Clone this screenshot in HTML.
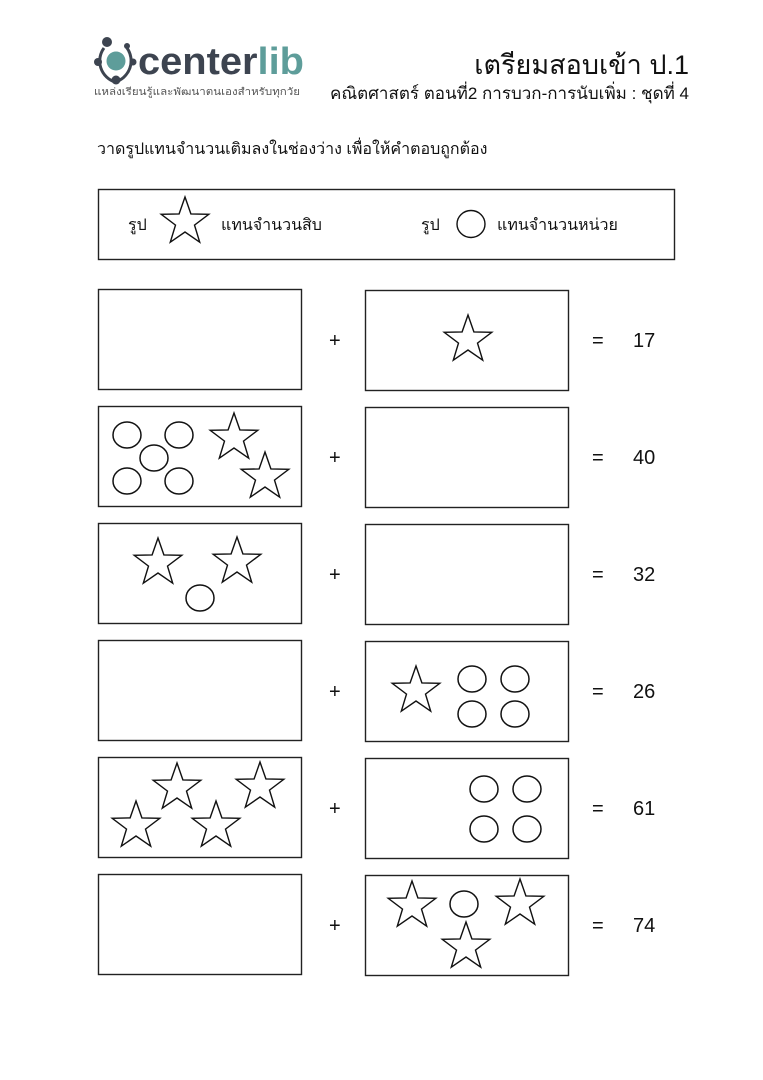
<!DOCTYPE html>
<html><head><meta charset="utf-8">
<style>
html,body{margin:0;padding:0;background:#fff;}
svg{display:block;}
text{font-family:"Liberation Sans","DejaVu Sans",sans-serif;fill:#111;}
</style></head>
<body>
<svg width="763" height="1080" viewBox="0 0 763 1080" xmlns="http://www.w3.org/2000/svg">
<defs>
<polygon id="s" points="0,-25 5.9,-8.1 23.8,-7.7 9.5,3.1 14.7,20.2 0,10 -14.7,20.2 -9.5,3.1 -23.8,-7.7 -5.9,-8.1" fill="#fff" stroke="#111" stroke-width="1.4"/>
<ellipse id="c" rx="14" ry="13" fill="#fff" stroke="#111" stroke-width="1.5"/>
</defs>
<!-- logo -->
<g fill="none" stroke="#3d4450" stroke-width="3">
<path d="M104,48 A22,22 0 0,0 115,82"/>
<path d="M127,48 A22,22 0 0,1 115,82"/>
</g>
<circle cx="116" cy="61" r="9.5" fill="#5e9d9a"/>
<circle cx="107" cy="42" r="5" fill="#3d4450"/>
<circle cx="127" cy="46" r="3" fill="#3d4450"/>
<circle cx="98" cy="62" r="4" fill="#3d4450"/>
<circle cx="133" cy="62" r="3.5" fill="#3d4450"/>
<circle cx="116" cy="80" r="4.5" fill="#3d4450"/>
<text x="138" y="74" font-size="38" font-weight="bold" textLength="166" lengthAdjust="spacingAndGlyphs" style="fill:#3d4450">center<tspan style="fill:#5e9d9a">lib</tspan></text>
<text x="94" y="95" font-size="10" textLength="206" lengthAdjust="spacingAndGlyphs" style="fill:#555">แหล่งเรียนรู้และพัฒนาตนเองสำหรับทุกวัย</text>
<text x="689" y="74" font-size="27" text-anchor="end">เตรียมสอบเข้า ป.1</text>
<text x="689" y="99" font-size="17" text-anchor="end">คณิตศาสตร์ ตอนที่2 การบวก-การนับเพิ่ม : ชุดที่ 4</text>
<text x="97" y="154" font-size="16">วาดรูปแทนจำนวนเติมลงในช่องว่าง เพื่อให้คำตอบถูกต้อง</text>
<!-- legend -->
<rect x="98.5" y="189.5" width="576" height="70" fill="none" stroke="#222" stroke-width="1.4"/>
<text x="128" y="230" font-size="16">รูป</text>
<use href="#s" x="185" y="222"/>
<text x="221" y="230" font-size="16">แทนจำนวนสิบ</text>
<text x="421" y="230" font-size="16">รูป</text>
<ellipse cx="471" cy="224" rx="14" ry="13.5" fill="none" stroke="#111" stroke-width="1.4"/>
<text x="497" y="230" font-size="16">แทนจำนวนหน่วย</text>
<!-- rows -->
<g fill="none" stroke="#222" stroke-width="1.4">
<rect x="98.5" y="289.5" width="203" height="100"/><rect x="365.5" y="290.5" width="203" height="100"/>
<rect x="98.5" y="406.5" width="203" height="100"/><rect x="365.5" y="407.5" width="203" height="100"/>
<rect x="98.5" y="523.5" width="203" height="100"/><rect x="365.5" y="524.5" width="203" height="100"/>
<rect x="98.5" y="640.5" width="203" height="100"/><rect x="365.5" y="641.5" width="203" height="100"/>
<rect x="98.5" y="757.5" width="203" height="100"/><rect x="365.5" y="758.5" width="203" height="100"/>
<rect x="98.5" y="874.5" width="203" height="100"/><rect x="365.5" y="875.5" width="203" height="100"/>
</g>
<g font-size="20">
<text x="329" y="347">+</text><text x="592" y="347">=</text><text x="633" y="347">17</text>
<text x="329" y="464">+</text><text x="592" y="464">=</text><text x="633" y="464">40</text>
<text x="329" y="581">+</text><text x="592" y="581">=</text><text x="633" y="581">32</text>
<text x="329" y="698">+</text><text x="592" y="698">=</text><text x="633" y="698">26</text>
<text x="329" y="815">+</text><text x="592" y="815">=</text><text x="633" y="815">61</text>
<text x="329" y="932">+</text><text x="592" y="932">=</text><text x="633" y="932">74</text>
</g>
<use href="#s" x="468" y="340"/>
<use href="#c" x="127" y="435"/><use href="#c" x="179" y="435"/><use href="#c" x="154" y="458"/><use href="#c" x="127" y="481"/><use href="#c" x="179" y="481"/>
<use href="#s" x="234" y="438"/><use href="#s" x="265" y="477"/>
<use href="#s" x="158" y="563"/><use href="#s" x="237" y="562"/><use href="#c" x="200" y="598"/>
<use href="#s" x="416" y="691"/>
<use href="#c" x="472" y="679"/><use href="#c" x="515" y="679"/><use href="#c" x="472" y="714"/><use href="#c" x="515" y="714"/>
<use href="#s" x="177" y="788"/><use href="#s" x="260" y="787"/><use href="#s" x="136" y="826"/><use href="#s" x="216" y="826"/>
<use href="#c" x="484" y="789"/><use href="#c" x="527" y="789"/><use href="#c" x="484" y="829"/><use href="#c" x="527" y="829"/>
<use href="#s" x="412" y="906"/><use href="#s" x="520" y="904"/><use href="#s" x="466" y="947"/><use href="#c" x="464" y="904"/>
</svg>
</body></html>
